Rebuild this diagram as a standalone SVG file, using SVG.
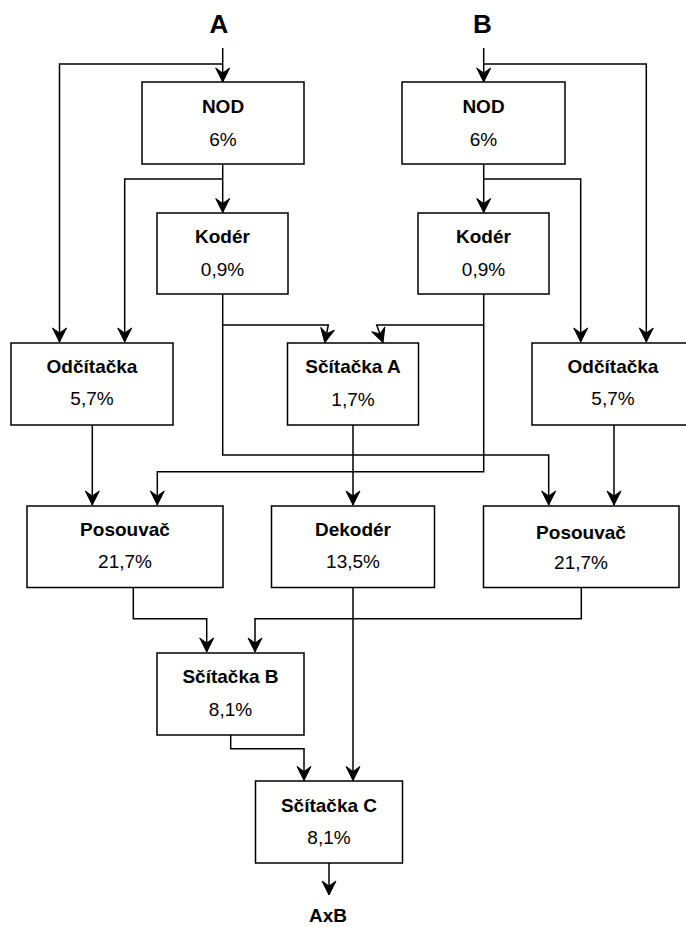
<svg xmlns="http://www.w3.org/2000/svg" width="686" height="927" viewBox="0 0 686 927">
  <style>
    .box { fill: #ffffff; stroke: #000000; stroke-width: 1.5; }
    .wire { fill: none; stroke: #000000; stroke-width: 1.5; }
    .t { font-family: "Liberation Sans", Arial, Helvetica, sans-serif; font-size: 19px; text-anchor: middle; fill: #000000; }
    .b { font-weight: bold; }
    .io { font-family: "Liberation Sans", Arial, Helvetica, sans-serif; font-weight: bold; text-anchor: middle; fill: #000000; }
  </style>
  <defs>
    <marker id="arrow" markerUnits="userSpaceOnUse" markerWidth="16" markerHeight="16" viewBox="-15 -8 16 16" refX="0" refY="0" orient="auto" overflow="visible">
      <path d="M0,0 L-14,-7 L-9,0 L-14,7 Z" fill="#000000" stroke="#000000" stroke-width="1"/>
    </marker>
  </defs>

  <rect width="686" height="927" fill="#ffffff"/>

  <!-- inputs and output labels -->
  <text class="io" x="219" y="33" font-size="26">A</text>
  <text class="io" x="482.5" y="33" font-size="26">B</text>
  <text class="io" x="328" y="922" font-size="19">AxB</text>

  <!-- connectors -->
  <g id="connectors">
    <!-- input A -->
    <path class="wire" d="M222.7,48 V82" marker-end="url(#arrow)"/>
    <path class="wire" d="M222.7,64 H59.5 V342" marker-end="url(#arrow)"/>
    <!-- input B -->
    <path class="wire" d="M483.7,48 V82" marker-end="url(#arrow)"/>
    <path class="wire" d="M483.7,64 H646.3 V342" marker-end="url(#arrow)"/>
    <!-- NOD A -->
    <path class="wire" d="M222.7,164 V212.5" marker-end="url(#arrow)"/>
    <path class="wire" d="M222.7,179 H124.7 V342" marker-end="url(#arrow)"/>
    <!-- NOD B -->
    <path class="wire" d="M483.7,164 V212.5" marker-end="url(#arrow)"/>
    <path class="wire" d="M483.7,179 H580.7 V342" marker-end="url(#arrow)"/>
    <!-- Kodér A -->
    <path class="wire" d="M222.7,294 V325 H328.3 L324.8,342.5" marker-end="url(#arrow)"/>
    <path class="wire" d="M222.7,325 V455 H548.7 V505" marker-end="url(#arrow)"/>
    <!-- Kodér B -->
    <path class="wire" d="M483.7,294 V325 H376.7 L383,342.5" marker-end="url(#arrow)"/>
    <path class="wire" d="M483.7,325 V471.7 H157.3 V505" marker-end="url(#arrow)"/>
    <!-- Odčítačka -> Posouvač -->
    <path class="wire" d="M92.3,425 V505" marker-end="url(#arrow)"/>
    <path class="wire" d="M614,425 V505" marker-end="url(#arrow)"/>
    <!-- Sčítačka A -> Dekodér -->
    <path class="wire" d="M353,425 V505" marker-end="url(#arrow)"/>
    <!-- Posouvač -> Sčítačka B -->
    <path class="wire" d="M133.3,587.5 V618.7 H206.7 V652" marker-end="url(#arrow)"/>
    <path class="wire" d="M581.3,587.5 V618.7 H255 V652" marker-end="url(#arrow)"/>
    <!-- Dekodér -> Sčítačka C -->
    <path class="wire" d="M353,587.5 V780.5" marker-end="url(#arrow)"/>
    <!-- Sčítačka B -> Sčítačka C -->
    <path class="wire" d="M230.7,735 V748.7 H304 V780.5" marker-end="url(#arrow)"/>
    <!-- Sčítačka C -> AxB -->
    <path class="wire" d="M329,863 V895" marker-end="url(#arrow)"/>
  </g>

  <!-- nodes -->
  <g id="nod-a">
    <rect class="box" x="142" y="82" width="162" height="82"/>
    <text class="t b" x="223" y="113.3">NOD</text>
    <text class="t" x="223" y="145.7">6%</text>
  </g>
  <g id="nod-b">
    <rect class="box" x="402" y="82" width="163" height="82"/>
    <text class="t b" x="483.5" y="113.3">NOD</text>
    <text class="t" x="483.5" y="145.7">6%</text>
  </g>
  <g id="koder-a">
    <rect class="box" x="157" y="213" width="131" height="81"/>
    <text class="t b" x="222.5" y="243.3">Kodér</text>
    <text class="t" x="222.5" y="276">0,9%</text>
  </g>
  <g id="koder-b">
    <rect class="box" x="418" y="213" width="131" height="81"/>
    <text class="t b" x="483.5" y="243.3">Kodér</text>
    <text class="t" x="483.5" y="276">0,9%</text>
  </g>
  <g id="odcitacka-a">
    <rect class="box" x="11" y="343" width="162" height="82"/>
    <text class="t b" x="92" y="373.3">Odčítačka</text>
    <text class="t" x="92" y="405">5,7%</text>
  </g>
  <g id="scitacka-a">
    <rect class="box" x="287.5" y="343" width="131" height="82"/>
    <text class="t b" x="353" y="372.7">Sčítačka A</text>
    <text class="t" x="353" y="406">1,7%</text>
  </g>
  <g id="odcitacka-b">
    <rect class="box" x="532" y="343" width="162" height="82"/>
    <text class="t b" x="613" y="373.3">Odčítačka</text>
    <text class="t" x="613" y="405">5,7%</text>
  </g>
  <g id="posouvac-a">
    <rect class="box" x="27" y="506" width="196" height="81.5"/>
    <text class="t b" x="125" y="536">Posouvač</text>
    <text class="t" x="125" y="568.3">21,7%</text>
  </g>
  <g id="dekoder">
    <rect class="box" x="271.5" y="506" width="163" height="81.5"/>
    <text class="t b" x="353" y="536">Dekodér</text>
    <text class="t" x="353" y="568.3">13,5%</text>
  </g>
  <g id="posouvac-b">
    <rect class="box" x="483.5" y="506" width="195.5" height="81.5"/>
    <text class="t b" x="581" y="539.3">Posouvač</text>
    <text class="t" x="581" y="569">21,7%</text>
  </g>
  <g id="scitacka-b">
    <rect class="box" x="157" y="653" width="147" height="82"/>
    <text class="t b" x="230.5" y="682.7">Sčítačka B</text>
    <text class="t" x="230.5" y="716">8,1%</text>
  </g>
  <g id="scitacka-c">
    <rect class="box" x="255.5" y="781" width="147" height="82"/>
    <text class="t b" x="329" y="811.7">Sčítačka C</text>
    <text class="t" x="329" y="844.3">8,1%</text>
  </g>
</svg>
